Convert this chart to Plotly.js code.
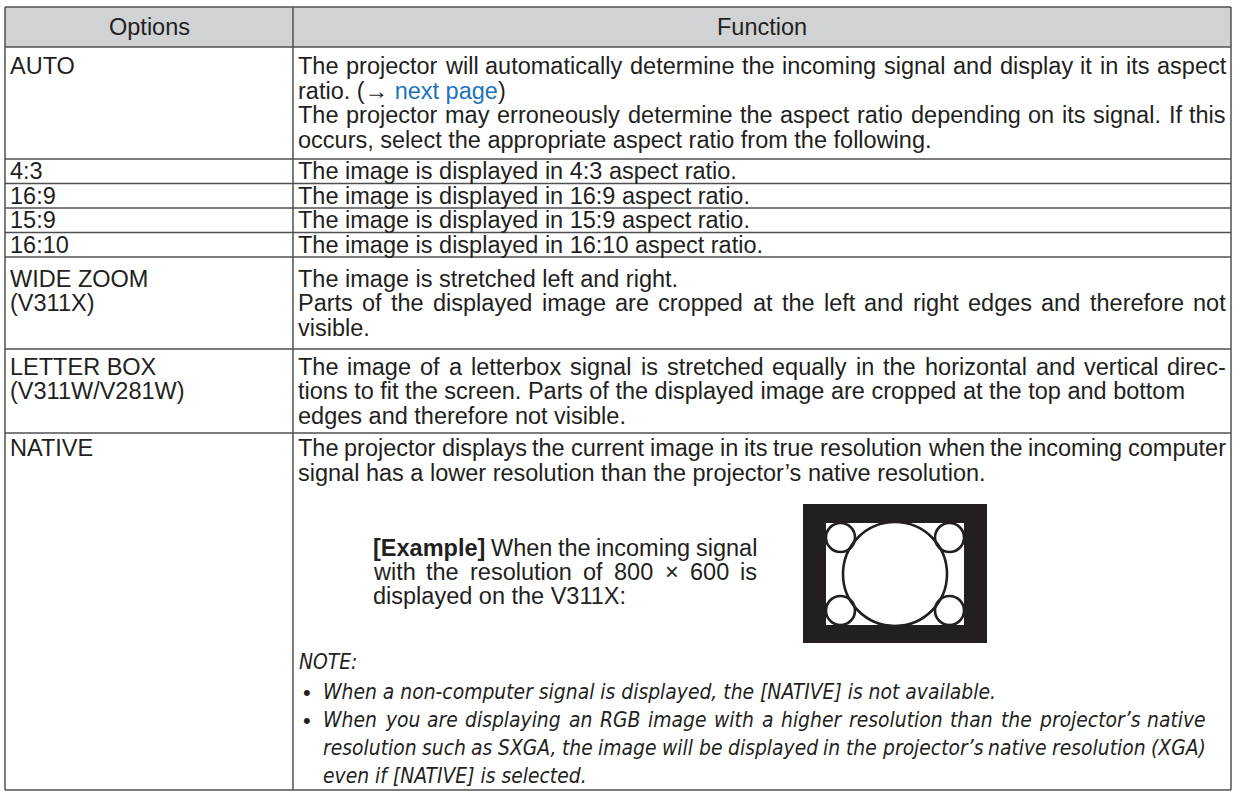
<!DOCTYPE html>
<html><head><meta charset="utf-8">
<script src="https://cdn.plot.ly/plotly-3.0.1.min.js"></script>
<style>html,body{margin:0;padding:0;background:#fff;overflow:hidden}</style>
</head><body><div id="chart" style="width:1240px;height:791px"></div>
<script>
// ---------------- data (text content) ----------------
const headers = ["Options", "Function"];
const optionLines = [
  ["AUTO"], ["4:3"], ["16:9"], ["15:9"], ["16:10"],
  ["WIDE ZOOM", "(V311X)"], ["LETTER BOX", "(V311W/V281W)"], ["NATIVE"]
];
const functionLines = [
  ["The projector will automatically determine the incoming signal and display it in its aspect",
   "ratio. (\u2192 <span style='color:#1b75bc'>next page</span>)",
   "The projector may erroneously determine the aspect ratio depending on its signal. If this",
   "occurs, select the appropriate aspect ratio from the following."],
  ["The image is displayed in 4:3 aspect ratio."],
  ["The image is displayed in 16:9 aspect ratio."],
  ["The image is displayed in 15:9 aspect ratio."],
  ["The image is displayed in 16:10 aspect ratio."],
  ["The image is stretched left and right.",
   "Parts of the displayed image are cropped at the left and right edges and therefore not",
   "visible."],
  ["The image of a letterbox signal is stretched equally in the horizontal and vertical direc-",
   "tions to fit the screen. Parts of the displayed image are cropped at the top and bottom",
   "edges and therefore not visible."],
  ["The projector displays the current image in its true resolution when the incoming computer",
   "signal has a lower resolution than the projector\u2019s native resolution."]
];
const exampleLines = [
  "<b>[Example]</b> When the incoming signal",
  "with the resolution of 800 \u00d7 600 is",
  "displayed on the V311X:"
];
const noteTitle = "NOTE:";
const noteLines = [
  "When a non-computer signal is displayed, the [NATIVE] is not available.",
  "When you are displaying an RGB image with a higher resolution than the projector\u2019s native",
  "resolution such as SXGA, the image will be displayed in the projector\u2019s native resolution (XGA)",
  "even if [NATIVE] is selected."
];
const noteBullets = [true, true, false, false];

// ---------------- layout / style ----------------
const G = {
  left: 5, right: 1231, colX: 293, top: 7, headerBottom: 47,
  rowBottoms: [159, 183.5, 208, 232.5, 257, 349, 433, 790],
  pad: 4, pitch: 24.5, textRight: 1225, headerY: 27,
  nativeFirstY: 448,
  exX0: 372, exX1: 756, exY: [548, 572, 596],
  img: {x0: 803, x1: 987, y0: 504, y1: 643, ix0: 826, ix1: 964, iy0: 523, iy1: 625,
        cx: 895, cy: 574, r: 52, sr: 14.5},
  noteX: 298, bulletX: 302, noteTextX: 322, noteY: 662, noteLineY: [692, 720, 748, 776],
  noteRight: 1205, noteFirstWidth: 673
};
const justifyFn = [[1,0,1,0],[0],[0],[0],[0],[0,1,0],[1,0,0],[1,0]];
const justifyEx = [1,1,0];
const justifyNote = [0,1,1,0];

const TXT = '#231f20', LINE = '#505050';
const MAIN = {family: '"Liberation Sans", Arial, Helvetica, sans-serif', size: 23.5, color: TXT, italic: false, bold: false};
const NOTEF = {family: '"Liberation Sans Narrow", "DejaVu Sans Condensed", "Liberation Sans", sans-serif', size: 23.5, color: TXT, italic: true, bold: false};

// ---------------- helpers ----------------
const cv = document.createElement('canvas').getContext('2d');
function css(f, bold) { return (f.italic ? 'italic ' : '') + ((bold || f.bold) ? 'bold ' : '') + f.size + 'px ' + f.family; }
function measure(w, f) {
  const bold = /<b>/.test(w);
  cv.font = css(f, bold);
  return cv.measureText(w.replace(/<[^>]+>/g, '')).width;
}
// condensed note font: size it so the first (unjustified) note line has the reference's width
(function () {
  const w = measure(noteLines[0], NOTEF);
  let s = NOTEF.size * G.noteFirstWidth / w;
  NOTEF.size = Math.max(18, Math.min(24, s));
})();

const ann = [];
function addText(x, y, text, f, anchor) {
  ann.push({x: x, y: y, xref: 'x', yref: 'y', text: text, showarrow: false,
    xanchor: anchor || 'left', yanchor: 'middle', borderpad: 0,
    font: {family: f.family, size: f.size, color: f.color, style: f.italic ? 'italic' : 'normal'}});
}
function drawLine(x0, x1, y, text, f, justify) {
  if (!justify) { addText(x0, y, text, f); return; }
  const words = text.split(' ');
  const ws = words.map(w => measure(w, f));
  const total = ws.reduce((a, b) => a + b, 0);
  const gap = Math.max(f.size * 0.2, (x1 - x0 - total) / (words.length - 1));
  let x = x0;
  words.forEach((w, i) => { addText(x, y, w, f); x += ws[i] + gap; });
}

// ---------------- table text ----------------
addText((G.left + G.colX) / 2, G.headerY, headers[0], MAIN, 'center');
addText((G.colX + G.right) / 2, G.headerY, headers[1], MAIN, 'center');

let prev = G.headerBottom;
functionLines.forEach((lines, r) => {
  const bottom = G.rowBottoms[r];
  let y0;
  if (r === functionLines.length - 1) y0 = G.nativeFirstY;
  else y0 = (prev + bottom) / 2 - (lines.length - 1) * G.pitch / 2;
  lines.forEach((t, i) => drawLine(G.colX + G.pad, G.textRight, y0 + i * G.pitch, t, MAIN, justifyFn[r][i]));
  optionLines[r].forEach((t, i) => addText(G.left + G.pad, y0 + i * G.pitch, t, MAIN));
  prev = bottom;
});

exampleLines.forEach((t, i) => drawLine(G.exX0, G.exX1, G.exY[i], t, MAIN, justifyEx[i]));

addText(G.noteX, G.noteY, noteTitle, NOTEF);
noteLines.forEach((t, i) => {
  if (noteBullets[i]) addText(G.bulletX, G.noteLineY[i], '\u2022', {...MAIN, size: 22});
  drawLine(G.noteTextX, G.noteRight, G.noteLineY[i], t, NOTEF, justifyNote[i]);
});

// ---------------- shapes ----------------
const shapes = [];
shapes.push({type: 'rect', xref: 'x', yref: 'y', x0: G.left, x1: G.right, y0: G.top, y1: G.headerBottom,
  fillcolor: '#d1d2d4', line: {width: 0}, layer: 'below'});
[G.top, G.headerBottom].concat(G.rowBottoms).forEach(y => shapes.push({type: 'line', xref: 'x', yref: 'y',
  x0: G.left, x1: G.right, y0: y, y1: y, line: {color: LINE, width: 1.5}}));
[G.left, G.colX, G.right].forEach(x => shapes.push({type: 'line', xref: 'x', yref: 'y',
  x0: x, x1: x, y0: G.top, y1: G.rowBottoms[G.rowBottoms.length - 1], line: {color: LINE, width: 1.5}}));
const I = G.img;
shapes.push({type: 'rect', xref: 'x', yref: 'y', x0: I.x0, x1: I.x1, y0: I.y0, y1: I.y1, fillcolor: '#231f20', line: {width: 0}});
shapes.push({type: 'rect', xref: 'x', yref: 'y', x0: I.ix0, x1: I.ix1, y0: I.iy0, y1: I.iy1, fillcolor: '#ffffff', line: {width: 0}});
shapes.push({type: 'circle', xref: 'x', yref: 'y', x0: I.cx - I.r, x1: I.cx + I.r, y0: I.cy - I.r, y1: I.cy + I.r, line: {color: '#231f20', width: 2.6}});
[[I.ix0 + I.sr, I.iy0 + I.sr], [I.ix1 - I.sr, I.iy0 + I.sr], [I.ix0 + I.sr, I.iy1 - I.sr], [I.ix1 - I.sr, I.iy1 - I.sr]].forEach(c =>
  shapes.push({type: 'circle', xref: 'x', yref: 'y', x0: c[0] - I.sr, x1: c[0] + I.sr, y0: c[1] - I.sr, y1: c[1] + I.sr, line: {color: '#231f20', width: 2.6}}));

const layout = {
  width: 1240, height: 791, margin: {l: 0, r: 0, t: 0, b: 0, pad: 0},
  paper_bgcolor: '#fff', plot_bgcolor: '#fff', showlegend: false,
  xaxis: {range: [0, 1240], visible: false, fixedrange: true},
  yaxis: {range: [791, 0], visible: false, fixedrange: true},
  annotations: ann, shapes: shapes
};
Plotly.newPlot('chart', [{type: 'scatter', x: [], y: [], mode: 'markers', hoverinfo: 'skip'}], layout, {staticPlot: true, displayModeBar: false});
</script></body></html>
